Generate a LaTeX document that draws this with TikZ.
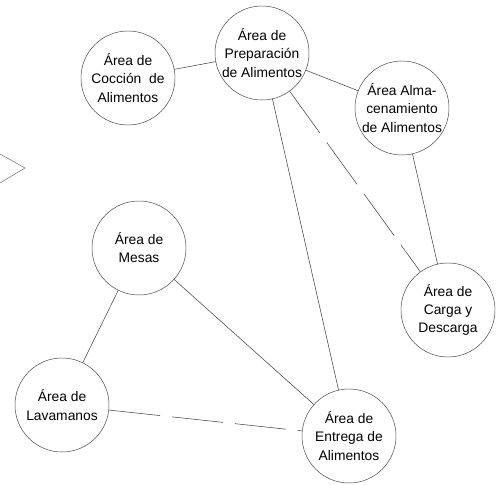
\documentclass[tikz,border=0pt]{standalone}
\usepackage{fontspec}
\setmainfont{Liberation Sans}
\usepackage{tikz}

\begin{document}
\begin{tikzpicture}[
    area/.style={circle, draw=black!75, minimum size=2.82cm, inner sep=0pt,
        align=center, font=\fontsize{11.8}{15.5}\selectfont},
    link/.style={draw=black!75, line width=0.45pt},
    longdash/.style={link, dash pattern=on 44pt off 10pt}
]
\useasboundingbox (0,0) rectangle (14.97,14.55);

% cut off shape at the left edge
\draw[black!60] (0,9.93) -- (0.75,9.51) -- (0,9.06);

% areas
\node[area] (coccion) at (3.84,12.21) {Área de\\Cocción\ \ de\\Alimentos};
\node[area] (prep) at (7.86,12.96) {Área de\\Preparación\\de Alimentos};
\node[area] (alm) at (12.06,11.31) {Área Alma-\\cenamiento\\de Alimentos};
\node[area] (carga) at (13.44,5.25) {Área de\\Carga y\\Descarga};
\node[area] (mesas) at (4.17,7.11) {Área de\\Mesas};
\node[area] (lav) at (1.86,2.40) {Área de\\Lavamanos};
\node[area] (entrega) at (10.47,1.47) {Área de\\Entrega de\\Alimentos};

% relations
\draw[link] (coccion) -- (prep);
\draw[link] (prep) -- (alm);
\draw[link] (alm) -- (carga);
\draw[longdash] (prep) -- (carga);
\draw[link] (prep) -- (entrega);
\draw[link] (mesas) -- (lav);
\draw[link] (mesas) -- (entrega);
\draw[longdash] (lav) -- (entrega);
\end{tikzpicture}
\end{document}
